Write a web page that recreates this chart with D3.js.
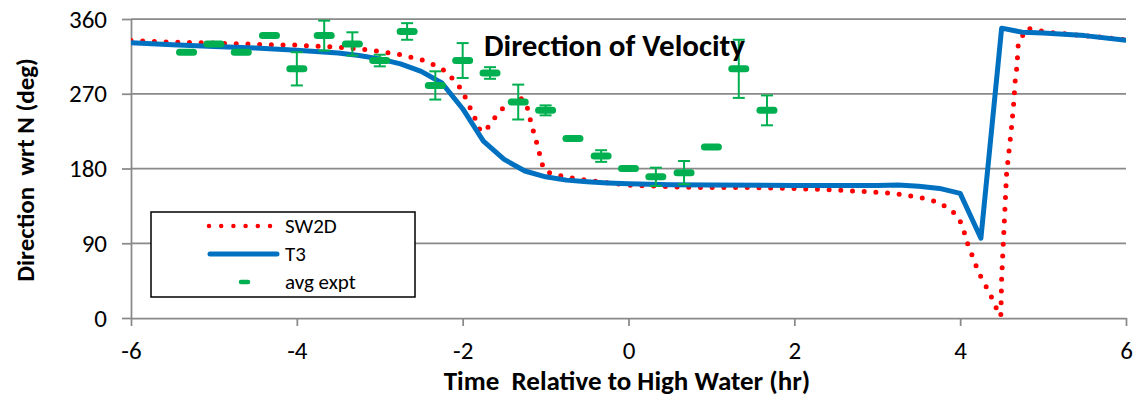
<!DOCTYPE html>
<html><head><meta charset="utf-8">
<script src="https://cdn.jsdelivr.net/npm/d3@7"></script>
<style>
body{margin:0;background:#fff}
svg{display:block}
text{font-family:Carlito,Lato,'Liberation Sans',sans-serif;fill:#000}
</style>
</head><body>
<svg id="c" width="1134" height="397"></svg>
<script>
// ---------- data ----------
const xTicks = [-6, -4, -2, 0, 2, 4, 6];
const yTicks = [0, 90, 180, 270, 360];

const sw2dTime = [-6, -5.5, -5, -4.5, -4, -3.5, -3.25, -3, -2.75, -2.5, -2.35, -2.22, -2.12, -2.02, -1.96, -1.9, -1.84, -1.79, -1.75, -1.7, -1.63, -1.53, -1.43, -1.31, -1.23, -1.17, -1.13, -1.09, -1.06, -1.02, -0.91, -0.7, -0.5, -0.2, 0, 0.5, 1, 1.5, 2, 2.5, 2.9, 3.2, 3.47, 3.61, 3.75, 3.87, 3.97, 4.03, 4.07, 4.11, 4.17, 4.21, 4.28, 4.35, 4.41, 4.46, 4.49, 4.5, 4.52, 4.54, 4.56, 4.59, 4.62, 4.645, 4.665, 4.685, 4.7, 4.8, 4.95, 5.1, 5.5, 6];
const sw2dDir  = [334, 332, 331, 329.5, 328.5, 326, 324, 321, 317, 311, 305, 298, 288, 276, 264, 251, 238, 226, 224, 229, 239, 251, 260, 266, 257, 233, 219, 205, 192, 178, 173, 169, 166, 162, 160, 158, 157, 157, 156, 154, 152, 150, 146, 143, 139, 131, 123, 110, 96, 83, 70, 57, 44, 31, 18, 6, 2, 47, 90, 132, 174, 202, 230, 258, 287, 303, 330, 349, 346, 343.5, 340, 335];

const t3Time = [-6, -5.5, -5, -4.5, -4, -3.5, -3.25, -3, -2.75, -2.5, -2.25, -2, -1.75, -1.5, -1.25, -1, -0.75, -0.5, -0.25, 0, 0.5, 1, 2, 3, 3.25, 3.5, 3.75, 4, 4.25, 4.5, 4.75, 5, 5.5, 6];
const t3Dir  = [331.5, 329, 327, 325, 322.5, 319, 316, 312, 306, 297, 283, 252, 213, 191, 177, 170, 166, 164, 162.5, 161.5, 160.5, 160, 159.5, 159.5, 160, 158.5, 156, 150, 96, 349, 344, 343, 340, 334.5];

const exptTime = [-5.33, -5, -4.67, -4.33, -4, -3.67, -3.33, -3, -2.67, -2.33, -2, -1.67, -1.33, -1, -0.67, -0.33, 0, 0.33, 0.67, 1, 1.33, 1.67];
const exptDir  = [320, 330, 320, 340, 300, 340, 330, 310, 345, 280, 310, 295, 260, 250, 216, 195, 180, 170, 175, 206, 300, 250];
const exptErr  = [0, 0, 0, 0, 20, 18, 14, 7, 10, 17, 21, 7, 21, 6, 0, 7, 0, 11, 14, 0, 35, 18];

const seriesNames = ["SW2D", "T3", "avg expt"];
const chartTitle = "Direction of Velocity";
const xTitle = "Time  Relative to High Water (hr)";
const yTitle = "Direction  wrt N (deg)";

// ---------- layout ----------
const W = 1134, H = 397;
const m = {left: 131, right: 8, top: 19, bottom: 79};
const gridColor = "#898989";
const red = "#ff0000", blue = "#0070c0", green = "#00b050";
const FONT = "Carlito,Lato,'Liberation Sans',sans-serif";

const svg = d3.select("#c");
const x = d3.scaleLinear().domain([-6, 6]).range([m.left, W - m.right]);
const y = d3.scaleLinear().domain([0, 360]).range([H - m.bottom, m.top]);

svg.append("defs").append("clipPath").attr("id", "plot")
  .append("rect").attr("x", m.left).attr("y", m.top - 1)
  .attr("width", W - m.right - m.left).attr("height", H - m.bottom - m.top + 1);

// gridlines
svg.append("g").selectAll("line").data(yTicks.filter(d => d > 0)).join("line")
  .attr("x1", m.left).attr("x2", W - m.right)
  .attr("y1", d => y(d)).attr("y2", d => y(d))
  .attr("stroke", gridColor).attr("stroke-width", 1.75);

// y axis
const yAxis = svg.append("g").attr("transform", `translate(${m.left},0)`)
  .call(d3.axisLeft(y).tickValues(yTicks).tickFormat(d => String(d)).tickSize(9).tickPadding(15).tickSizeOuter(0));
yAxis.select(".domain").attr("stroke", gridColor).attr("stroke-width", 1.75);
yAxis.selectAll(".tick line").attr("stroke", gridColor).attr("stroke-width", 1.75);
yAxis.selectAll(".tick text").attr("font-size", 25).attr("font-family", FONT).attr("fill", "#000");

// x axis
const xAxis = svg.append("g").attr("transform", `translate(0,${y(0)})`)
  .call(d3.axisBottom(x).tickValues(xTicks).tickFormat(d => String(d)).tickSize(8).tickPadding(15).tickSizeOuter(0));
xAxis.select(".domain").attr("stroke", gridColor).attr("stroke-width", 1.75);
xAxis.selectAll(".tick line").attr("stroke", gridColor).attr("stroke-width", 1.75);
xAxis.selectAll(".tick text").attr("font-size", 25).attr("font-family", FONT).attr("fill", "#000");

const plot = svg.append("g").attr("clip-path", "url(#plot)");

// SW2D dotted
const sw2d = sw2dTime.map((t, i) => [t, sw2dDir[i]]);
plot.append("path").datum(sw2d)
  .attr("d", d3.line().x(d => x(d[0])).y(d => y(d[1])))
  .attr("fill", "none").attr("stroke", red).attr("stroke-width", 5)
  .attr("stroke-linecap", "round").attr("stroke-dasharray", "0 11.7");

// T3 solid
const t3 = t3Time.map((t, i) => [t, t3Dir[i]]);
plot.append("path").datum(t3)
  .attr("d", d3.line().x(d => x(d[0])).y(d => y(d[1])))
  .attr("fill", "none").attr("stroke", blue).attr("stroke-width", 5)
  .attr("stroke-linejoin", "round").attr("stroke-linecap", "round");

// experiment with error bars
const expt = exptTime.map((t, i) => ({t, v: exptDir[i], e: exptErr[i]}));
const eg = plot.append("g").selectAll("g").data(expt).join("g");
eg.filter(d => d.e > 0).append("line")
  .attr("x1", d => x(d.t)).attr("x2", d => x(d.t))
  .attr("y1", d => y(d.v + d.e)).attr("y2", d => y(d.v - d.e))
  .attr("stroke", green).attr("stroke-width", 2);
eg.filter(d => d.e > 0).selectAll(".cap").data(d => [[d.t, d.v + d.e], [d.t, d.v - d.e]]).join("line")
  .attr("x1", d => x(d[0]) - 6).attr("x2", d => x(d[0]) + 6)
  .attr("y1", d => y(d[1])).attr("y2", d => y(d[1]))
  .attr("stroke", green).attr("stroke-width", 2);
eg.append("line")
  .attr("x1", d => x(d.t) - 7).attr("x2", d => x(d.t) + 7)
  .attr("y1", d => y(d.v)).attr("y2", d => y(d.v))
  .attr("stroke", green).attr("stroke-width", 7).attr("stroke-linecap", "round");

// title
svg.append("text").attr("x", 484).attr("y", 56)
  .attr("font-size", 31).attr("font-weight", "bold").text(chartTitle);

// axis titles
svg.append("text").attr("x", 627).attr("y", 390)
  .attr("text-anchor", "middle").attr("font-size", 27).attr("font-weight", "bold")
  .style("white-space", "pre").text(xTitle);
svg.append("text").attr("transform", "translate(34,170) rotate(-90)")
  .attr("text-anchor", "middle").attr("font-size", 25).attr("font-weight", "bold")
  .style("white-space", "pre").text(yTitle);

// legend
const lg = svg.append("g");
lg.append("rect").attr("x", 151).attr("y", 212).attr("width", 264).attr("height", 85)
  .attr("fill", "#fff").attr("stroke", "#000").attr("stroke-width", 1.5);
const rows = [226, 254, 282];
lg.append("line").attr("x1", 209).attr("x2", 270).attr("y1", rows[0]).attr("y2", rows[0])
  .attr("stroke", red).attr("stroke-width", 4.5).attr("stroke-linecap", "round").attr("stroke-dasharray", "0 12.2");
lg.append("line").attr("x1", 210).attr("x2", 277).attr("y1", rows[1]).attr("y2", rows[1])
  .attr("stroke", blue).attr("stroke-width", 5).attr("stroke-linecap", "round");
lg.append("line").attr("x1", 241).attr("x2", 248).attr("y1", rows[2]).attr("y2", rows[2])
  .attr("stroke", green).attr("stroke-width", 4.5).attr("stroke-linecap", "round");
lg.selectAll(".lt").data(seriesNames).join("text")
  .attr("x", 285).attr("y", (d, i) => rows[i]).attr("dy", "0.35em")
  .attr("font-size", 21).text(d => d);
</script>
</body></html>
